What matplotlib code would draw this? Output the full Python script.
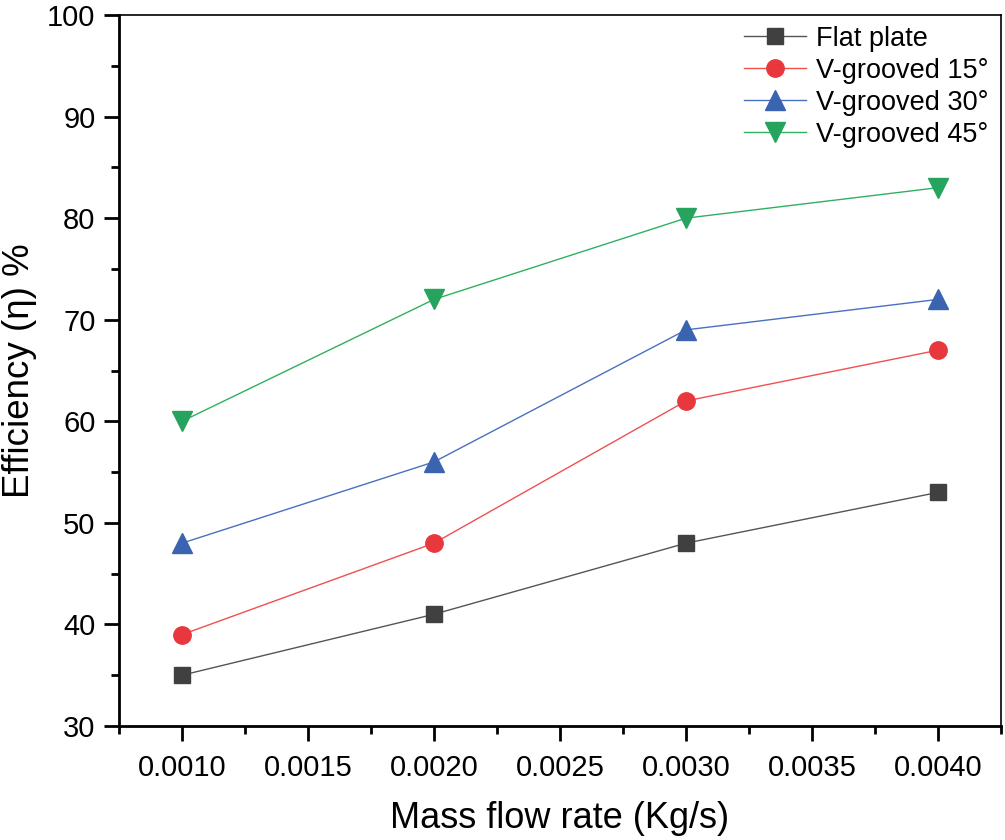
import matplotlib
matplotlib.use("Agg")
import matplotlib.pyplot as plt
from matplotlib.ticker import MultipleLocator, FormatStrFormatter

plt.rcParams['font.family'] = ['Liberation Sans', 'DejaVu Sans']

mass_flow = [0.0010, 0.0020, 0.0030, 0.0040]
flat_plate = [35, 41, 48, 53]
v15 = [39, 48, 62, 67]
v30 = [48, 56, 69, 72]
v45 = [60, 72, 80, 83]

series = [
    ("Flat plate", flat_plate, "s", "#404040", "#555555", 11),
    ("V-grooved 15°", v15, "o", "#e8383d", "#f05050", 12.5),
    ("V-grooved 30°", v30, "^", "#3a63b0", "#4a70c0", 14),
    ("V-grooved 45°", v45, "v", "#26a35c", "#30b060", 14),
]

fig = plt.figure(figsize=(10.05, 8.4), dpi=100)
ax = fig.add_axes([119/1005, 1-726/840, (1001-119)/1005, (726-15)/840])

for name, vals, mk, mc, lc, ms in series:
    ax.plot(mass_flow, vals, color=lc, lw=1.0, marker=mk, markersize=ms,
            markerfacecolor=mc, markeredgecolor=mc, label=name)

ax.set_xlim(0.00075, 0.00425)
ax.set_ylim(30, 100)
ax.xaxis.set_major_locator(MultipleLocator(0.0005))
ax.xaxis.set_minor_locator(MultipleLocator(0.00025))
ax.xaxis.set_major_formatter(FormatStrFormatter('%.4f'))
ax.yaxis.set_major_locator(MultipleLocator(10))
ax.yaxis.set_minor_locator(MultipleLocator(5))

ax.tick_params(which='major', direction='out', length=11, width=2, labelsize=21)
ax.tick_params(which='minor', direction='out', length=6, width=2)
ax.tick_params(axis='x', which='major', pad=9)
ax.tick_params(axis='y', which='major', pad=6)
for side in ['left', 'bottom']:
    ax.spines[side].set_linewidth(2)
for side in ['top', 'right']:
    ax.spines[side].set_linewidth(1.2)

ax.set_xlabel("Mass flow rate (Kg/s)", fontsize=26, labelpad=14)
ax.set_ylabel("Efficiency (η) %", fontsize=26.5, labelpad=7)

ax.legend(loc='upper right', frameon=False, fontsize=19.5, handlelength=2.3,
          borderaxespad=0.0, labelspacing=0.22, handletextpad=0.35,
          bbox_to_anchor=(0.998, 1.0))

fig.savefig("out.png", dpi=100)
